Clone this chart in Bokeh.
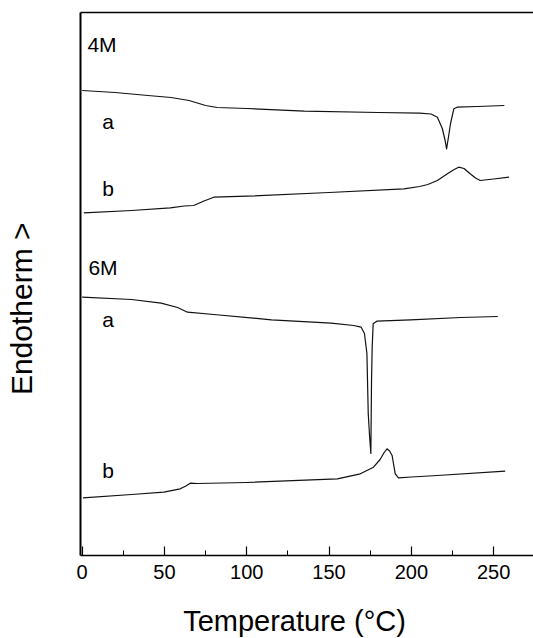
from bokeh.plotting import figure
from bokeh.models import (ColumnDataSource, Label, LinearAxis, FixedTicker,
                          SingleIntervalTicker, Range1d)
from bokeh.embed import file_html
from bokeh.resources import INLINE

# DSC traces (heat flow in arbitrary, vertically offset units)
t_4m_a = [0, 20, 40, 54, 65, 75, 82, 100, 135, 180, 205, 212, 215.8, 218.8,
          220.5, 221.4, 222.5, 223.8, 225.8, 227.8, 240, 256.5]
h_4m_a = [465, 463, 460, 458, 455, 450, 448, 447, 444.3, 443, 442.3, 441.5,
          438.3, 427, 415, 406.7, 418, 432, 446.7, 448.3, 449, 450]

t_4m_b = [1, 30, 53.6, 62, 67.8, 74, 80, 100, 150, 195.5, 205, 210, 215.8,
          221.9, 226, 228.8, 232, 235.7, 239, 241.8, 250, 259.3]
h_4m_b = [342.7, 345, 347.7, 349.5, 350, 354.5, 358.3, 359.3, 363, 366.7,
          369, 371, 375, 381.7, 386, 388.3, 387, 381.7, 377.5, 375, 376.5, 378.3]

t_6m_a = [0, 30, 48, 58, 64, 80, 115, 151.3, 165, 169.5, 171.5, 173, 173.8,
          174.6, 175.4, 175.8, 176.2, 176.8, 179, 199.6, 230, 252.5]
h_6m_a = [258.3, 256, 252.3, 248, 243.3, 241, 235.7, 232.3, 230, 228.3, 222,
          202, 142, 120, 102, 175, 208.3, 231.7, 234.3, 235.7, 238, 239]

t_6m_b = [0.5, 30, 49.6, 59.6, 63, 65.7, 70, 100, 155, 169, 177, 181, 183.5,
          185.2, 186.8, 188.3, 190.2, 192.2, 200, 215.8, 257]
h_6m_b = [57.7, 61, 63.3, 66.7, 69.5, 72.3, 72, 73, 76.7, 81.7, 88.3, 96,
          103, 106.7, 104.5, 100, 81.7, 77.7, 78.5, 80, 84.3]

# trace annotations: text, x, baseline y
tag_text = ["4M", "a", "b", "6M", "a", "b"]
tag_x = [3.2, 12.2, 12.2, 3.8, 12.2, 12.2]
tag_y = [511, 434.3, 367, 287.7, 236, 85]

FONT = "Liberation Sans"
T_MIN, T_MAX = -1, 274.2      # temperature span of the plot box
H_MIN, H_MAX = 0, 543         # heat-flow span of the plot box

# the data frame fills the whole canvas; axes are pinned at the box edges
p = figure(width=533, height=638, output_backend="svg", toolbar_location=None,
           x_range=Range1d(-49.6, T_MAX), y_range=Range1d(-83, 555),
           x_axis_location=None, y_axis_location=None,
           min_border=0)
p.outline_line_color = None
p.background_fill_color = "white"
p.border_fill_color = "white"
p.grid.visible = False

# bottom temperature axis with inward ticks
xaxis = LinearAxis(ticker=SingleIntervalTicker(interval=50, num_minor_ticks=2),
                   fixed_location=H_MIN, bounds=(T_MIN, T_MAX))
xaxis.axis_line_width = 1.5
xaxis.axis_line_color = "black"
xaxis.major_tick_in = 9
xaxis.major_tick_out = 0
xaxis.minor_tick_in = 5
xaxis.minor_tick_out = 0
xaxis.major_tick_line_width = 1.2
xaxis.minor_tick_line_width = 1
xaxis.major_label_standoff = 9
xaxis.major_label_text_font = FONT
xaxis.major_label_text_font_size = "20px"
xaxis.major_label_text_color = "black"
p.add_layout(xaxis, "below")

# plain box lines on the left and top
yaxis = LinearAxis(ticker=FixedTicker(ticks=[]), fixed_location=T_MIN,
                   bounds=(H_MIN, H_MAX))
yaxis.axis_line_width = 2
yaxis.axis_line_color = "black"
p.add_layout(yaxis, "left")

topaxis = LinearAxis(ticker=FixedTicker(ticks=[]), fixed_location=H_MAX,
                     bounds=(T_MIN, T_MAX))
topaxis.axis_line_width = 1.5
topaxis.axis_line_color = "black"
p.add_layout(topaxis, "above")

for t, h in [(t_4m_a, h_4m_a), (t_4m_b, h_4m_b), (t_6m_a, h_6m_a), (t_6m_b, h_6m_b)]:
    src = ColumnDataSource(dict(t=t, h=h))
    p.line("t", "h", source=src, line_color="#111111", line_width=1.2,
           line_join="round")

for txt, x, y in zip(tag_text, tag_x, tag_y):
    p.add_layout(Label(x=x, y=y, text=txt, text_font=FONT,
                       text_font_size="21px", text_color="black",
                       text_align="left", text_baseline="alphabetic"))

# axis titles
p.add_layout(Label(x=129, y=-65, text="Temperature (\u00b0C)", text_font=FONT,
                   text_font_size="29px", text_color="black",
                   text_align="center", text_baseline="alphabetic"))
p.add_layout(Label(x=-36.7, y=246.7, text="Endotherm >", text_font=FONT,
                   text_font_size="30px", text_color="black", angle=1.5708,
                   text_align="center", text_baseline="alphabetic"))

open("out.html", "w").write(file_html(p, INLINE))
